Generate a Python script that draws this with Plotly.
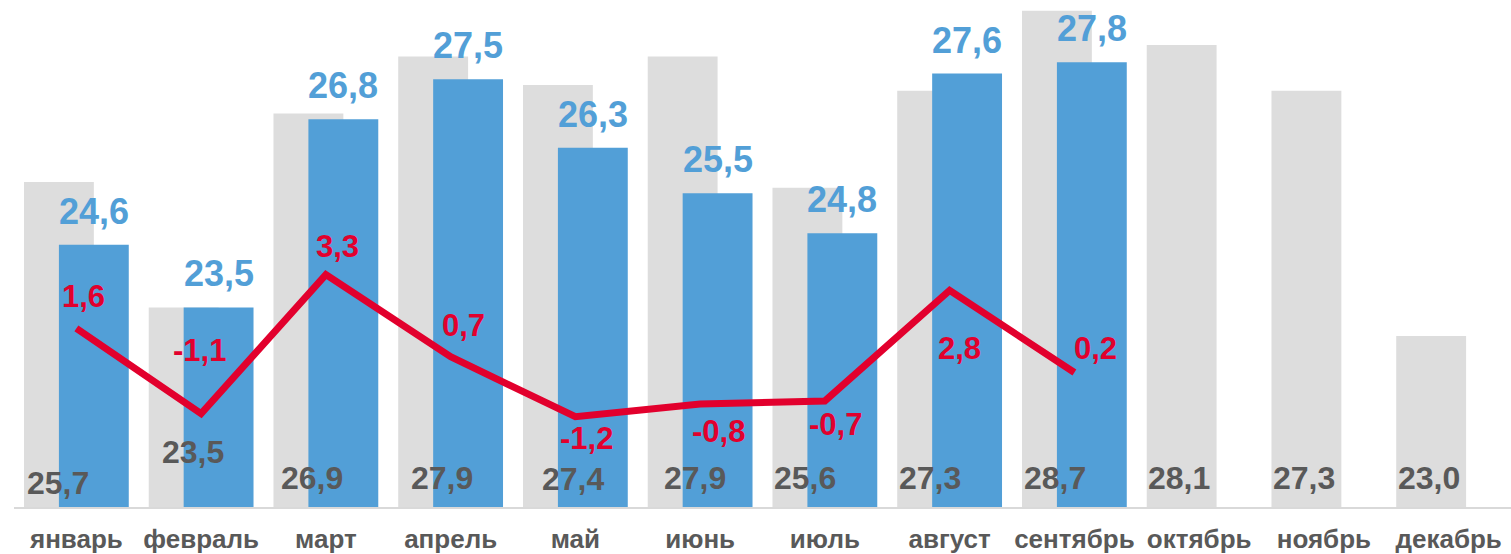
import plotly.graph_objects as go

months = ["январь", "февраль", "март", "апрель", "май", "июнь", "июль",
          "август", "сентябрь", "октябрь", "ноябрь", "декабрь"]
prev_year = [25.7, 23.5, 26.9, 27.9, 27.4, 27.9, 25.6, 27.3, 28.7, 28.1, 27.3, 23.0]
curr_year = [24.6, 23.5, 26.8, 27.5, 26.3, 25.5, 24.8, 27.6, 27.8]
diff = [1.6, -1.1, 3.3, 0.7, -1.2, -0.8, -0.7, 2.8, 0.2]

# styles / label offsets (pixels, dx right, dy down)
GRAY_BAR = "#DDDDDD"
BLUE = "#529FD7"
RED = "#E2002D"
DARK = "#595959"
FONT = "Liberation Sans, Arial, sans-serif"
bar_shift = 0.14
bar_w = 0.56
red_shift = [(7, -32), (-2, -63), (12, -28), (13, -31), (11, 22),
             (18, 27), (11, 24), (10, 58), (21, -24)]
gray_shift = [(-1, 0), (9, -31), (4, -5), (9, -5), (15, -4), (12, -5),
              (-2, -5), (-2, -5), (-2, -5), (-3, -5), (-2, -5), (-2, -5)]

def fmt(v):
    return f"{v:.1f}".replace(".", ",")

idx = list(range(len(months)))
fig = go.Figure()
fig.add_trace(go.Bar(x=[i - bar_shift for i in idx], y=prev_year, width=bar_w,
                     marker=dict(color=GRAY_BAR, line=dict(width=0)),
                     hoverinfo="skip"))
fig.add_trace(go.Bar(x=[i + bar_shift for i in idx[:len(curr_year)]], y=curr_year,
                     width=bar_w, marker=dict(color=BLUE, line=dict(width=0)),
                     hoverinfo="skip"))
fig.add_trace(go.Scatter(x=idx[:len(diff)], y=diff, mode="lines", yaxis="y2",
                         line=dict(color=RED, width=7), hoverinfo="skip"))

ann = []
for i, v in enumerate(curr_year):
    ann.append(dict(x=i + bar_shift, y=v, xref="x", yref="y", text=fmt(v),
                    showarrow=False, yanchor="bottom", yshift=11,
                    font=dict(family=FONT, size=36, color=BLUE, weight="bold")))
for i, v in enumerate(prev_year):
    dx, dy = gray_shift[i]
    ann.append(dict(x=i - bar_shift, y=20, xref="x", yref="y", text=fmt(v),
                    showarrow=False, yanchor="bottom", xshift=dx, yshift=4 - dy,
                    font=dict(family=FONT, size=32, color=DARK, weight="bold")))
for i, v in enumerate(diff):
    dx, dy = red_shift[i]
    ann.append(dict(x=i, y=v, xref="x", yref="y2", text=fmt(v),
                    showarrow=False, xshift=dx, yshift=-dy,
                    font=dict(family=FONT, size=31, color=RED, weight="bold")))

fig.update_layout(
    width=1511, height=554,
    margin=dict(l=14, r=0, t=0, b=47),
    paper_bgcolor="white", plot_bgcolor="white",
    barmode="overlay", showlegend=False,
    annotations=ann,
    xaxis=dict(range=[-0.5, 11.5], tickmode="array", tickvals=idx, ticktext=months,
               showgrid=False, zeroline=False, showline=True, linecolor="#D9D9D9",
               linewidth=2, ticks="", ticklabelstandoff=8,
               tickfont=dict(family=FONT, size=26, color=DARK, weight="bold")),
    yaxis=dict(range=[20, 28.89], visible=False, showgrid=False),
    yaxis2=dict(range=[-4.06, 12.0], overlaying="y", visible=False, showgrid=False),
)
fig.write_html("out.html", config={"displayModeBar": False},
               post_script="document.body.style.margin='0';document.body.style.overflow='hidden';")
